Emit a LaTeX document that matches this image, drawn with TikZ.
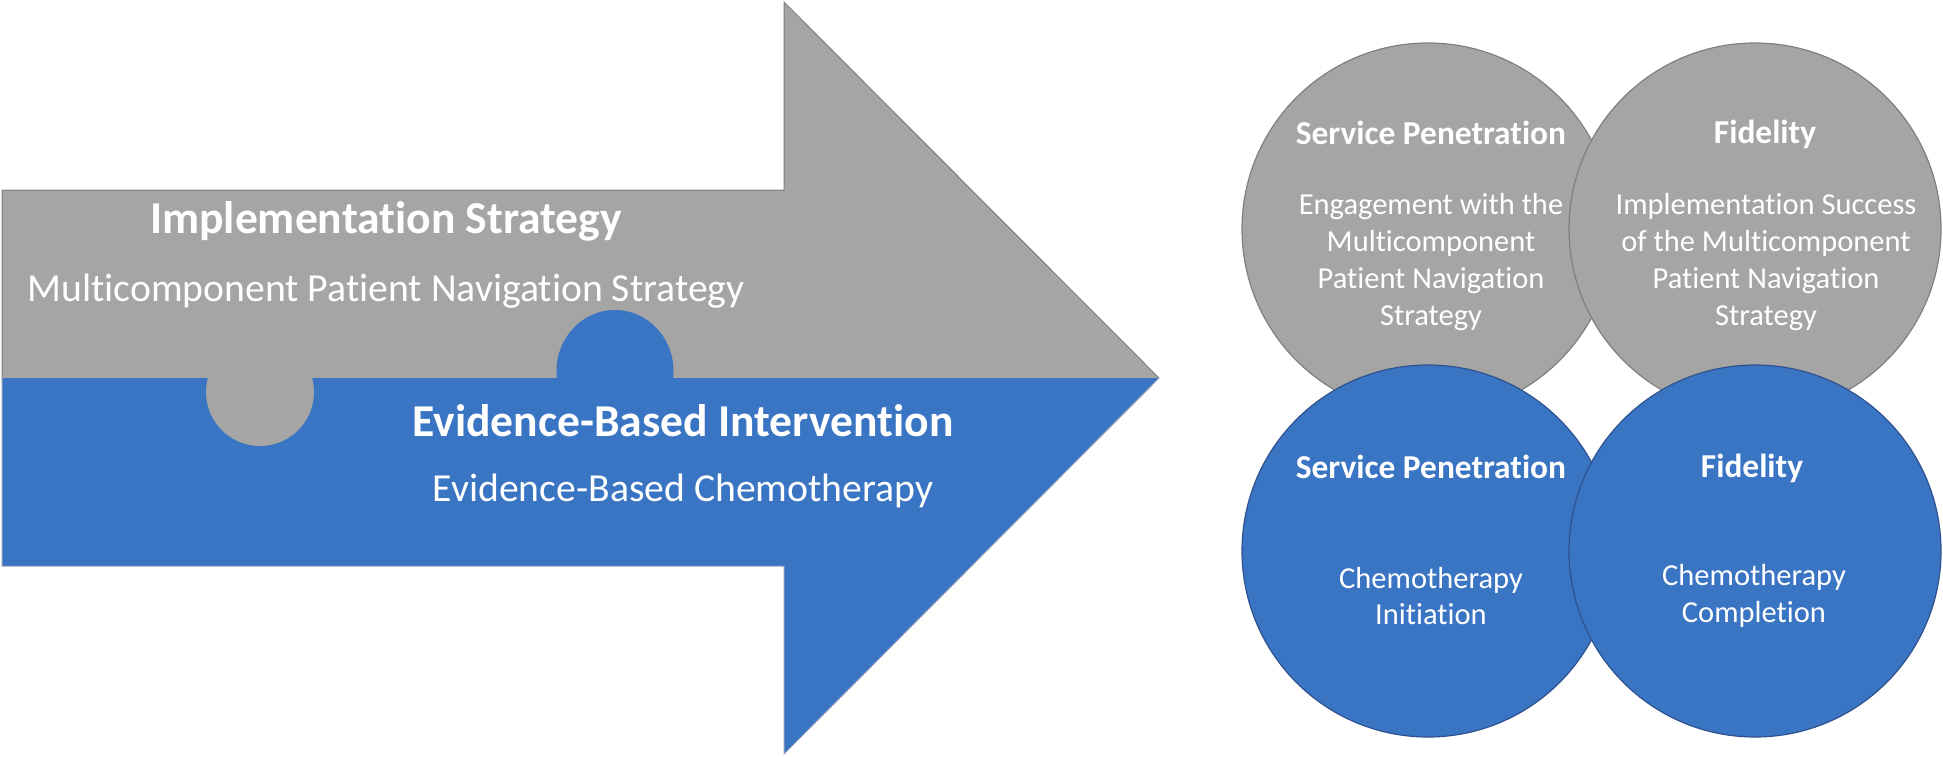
\documentclass[tikz,border=0pt]{standalone}
\usepackage{fontspec}
\setmainfont{Carlito}[Ligatures=NoCommon,Contextuals=NoAlternate]
\definecolor{pgray}{RGB}{165,165,165}
\definecolor{pblue}{RGB}{58,117,196}
\definecolor{gline}{RGB}{127,127,127}
\definecolor{bline}{RGB}{47,82,143}
\definecolor{bedge}{RGB}{140,160,190}
\begin{document}
\begin{tikzpicture}[x=1pt,y=-1pt,
  atitle/.style={text=white,font=\fontsize{45.6}{54}\selectfont\bfseries,inner sep=0pt},
  asub/.style={text=white,font=\fontsize{39.7}{47}\selectfont,inner sep=0pt},
  ctitle/.style={text=white,font=\fontsize{33.4}{40}\selectfont\bfseries,inner sep=0pt},
  cbody/.style={text=white,font=\fontsize{30.5}{36.8}\selectfont,align=center,inner sep=0pt},
  gcirc/.style={circle,minimum size=372pt,inner sep=0pt,fill=pgray,draw=gline,line width=1.2pt},
  bcirc/.style={circle,minimum size=372pt,inner sep=0pt,fill=pblue,draw=bline,line width=1.2pt},
]
\useasboundingbox (0,0) rectangle (1943,756);

% arrow halves
\fill[pgray] (2,378) -- (2,190) -- (784,190) -- (784,2) -- (1159,378) -- cycle;
\fill[pblue] (2,378) -- (1159,378) -- (784,754) -- (784,566) -- (2,566) -- cycle;
\draw[gline,line width=1pt] (2,378) -- (2,190) -- (784,190) -- (784,2) -- (1159,378);
\draw[bedge,line width=1pt] (1159,378) -- (784,754) -- (784,566) -- (2,566) -- (2,378);
% puzzle tabs
\fill[pgray] (260,392) ellipse [x radius=54pt, y radius=54pt];
\fill[pblue] (615,371) ellipse [x radius=58.5pt, y radius=61pt];

% arrow texts
\node[atitle] (impl) at (386,221) {Implementation Strategy};
\node[asub] (implsub) at (386,291) {Multicomponent Patient Navigation Strategy};
\node[atitle] (ebi) at (683,421) {Evidence-Based Intervention};
\node[asub] (ebisub) at (683,491) {Evidence-Based Chemotherapy};

% circles
\node[gcirc] (g1) at (1428,229) {};
\node[gcirc] (g2) at (1755,229) {};
\node[bcirc] (b1) at (1428,551) {};
\node[bcirc] (b2) at (1755,551) {};

% circle texts
\node[ctitle] (g1t) at (1431,133) {Service Penetration};
\node[cbody] (g1b) at (1431,262) {Engagement with the\\Multicomponent\\Patient Navigation\\Strategy};
\node[ctitle] (g2t) at (1765,134) {Fidelity};
\node[cbody] (g2b) at (1766,262) {Implementation Success\\of the Multicomponent\\Patient Navigation\\Strategy};
\node[ctitle] (b1t) at (1431,467) {Service Penetration};
\node[cbody] (b1b) at (1431,596) {Chemotherapy\\Initiation};
\node[ctitle] (b2t) at (1752,468) {Fidelity};
\node[cbody] (b2b) at (1754,596) {Chemotherapy\\Completion};
\end{tikzpicture}
\end{document}
